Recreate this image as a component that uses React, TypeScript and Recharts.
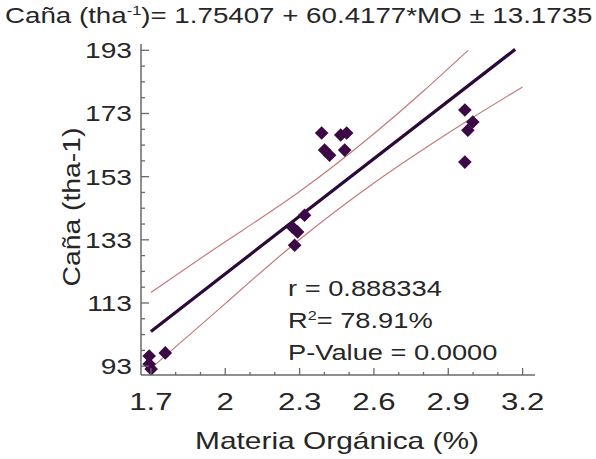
import React from 'react';
import { ComposedChart, XAxis, YAxis, Scatter, Line, Customized } from 'recharts';

const MO_VALUES = [1.693, 1.758, 1.693, 1.701, 2.32, 2.271, 2.292, 2.28, 2.389, 2.466, 2.49, 2.401, 2.421, 2.482, 2.967, 2.999, 2.979, 2.967];
const CANA_VALUES = [96.2, 97.2, 93.7, 92.1, 140.8, 137.0, 135.5, 131.3, 166.8, 166.2, 166.8, 161.4, 159.8, 161.4, 174.1, 170.3, 167.7, 157.6];

const FIT_X = [1.7, 3.17];
const FIT_Y = [104.0, 193.3];

const UPPER_X = [1.7, 2.0, 2.3, 2.6, 2.8, 2.98];
const UPPER_Y = [116.3, 132.4, 148.3, 166.6, 180.1, 193.0];

const LOWER_X = [1.7, 2.0, 2.3, 2.6, 2.8, 3.0, 3.2];
const LOWER_Y = [92.3, 112.8, 133.1, 151.0, 161.7, 171.8, 181.4];

const X_TICKS = [1.7, 1.8, 1.9, 2.0, 2.1, 2.2, 2.3, 2.4, 2.5, 2.6, 2.7, 2.8, 2.9, 3.0, 3.1, 3.2];
const X_LABELS = [1.7, 2, 2.3, 2.6, 2.9, 3.2];
const Y_TICKS = [93, 98, 103, 108, 113, 118, 123, 128, 133, 138, 143, 148, 153, 158, 163, 168, 173, 178, 183, 188, 193];
const Y_LABELS = [93, 113, 133, 153, 173, 193];

const TITLE_MAIN = 'Caña (tha';
const TITLE_SUP = '-1';
const TITLE_REST = ')= 1.75407 + 60.4177*MO ± 13.1735';
const STAT_R = 'r = 0.888334';
const STAT_R2_A = 'R';
const STAT_R2_SUP = '2';
const STAT_R2_B = '= 78.91%';
const STAT_P = 'P-Value = 0.0000';
const X_TITLE = 'Materia Orgánica (%)';
const Y_TITLE = 'Caña (tha-1)';

const points = MO_VALUES.map((x, i) => ({ x, y: CANA_VALUES[i] }));
const fit = FIT_X.map((x, i) => ({ x, y: FIT_Y[i] }));
const upper = UPPER_X.map((x, i) => ({ x, y: UPPER_Y[i] }));
const lower = LOWER_X.map((x, i) => ({ x, y: LOWER_Y[i] }));

const FONT = '"Liberation Sans", Arial, sans-serif';
const AXIS = '#6a6a6a';
const TEXT = '#262626';

const isIn = (arr: number[], v: number) => arr.some((a) => Math.abs(a - v) < 1e-6);

const XTick = (props: any) => {
  const { x, y, payload } = props;
  const major = isIn(X_LABELS, payload.value);
  return (
    <g>
      <line x1={x} x2={x} y1={y} y2={y - (major ? 7 : 3)} stroke={AXIS} strokeWidth={1.3} />
      {major && (
        <text transform={`translate(${x},${y + 35}) scale(1.3,1)`} textAnchor="middle" fontSize={24} fill={TEXT} fontFamily={FONT}>
          {String(payload.value)}
        </text>
      )}
    </g>
  );
};

const YTick = (props: any) => {
  const { x, y, payload } = props;
  const major = isIn(Y_LABELS, payload.value);
  return (
    <g>
      <line x1={x} x2={x + (major ? 8 : 4)} y1={y} y2={y} stroke={AXIS} strokeWidth={1.3} />
      {major && (
        <text transform={`translate(${x - 9},${y + 8}) scale(1.28,1)`} textAnchor="end" fontSize={22} fill={TEXT} fontFamily={FONT}>
          {String(payload.value)}
        </text>
      )}
    </g>
  );
};

const Diamond = (props: any) => {
  const { cx, cy } = props;
  const r = 6.8;
  return <polygon points={`${cx},${cy - r} ${cx + r},${cy} ${cx},${cy + r} ${cx - r},${cy}`} fill="#3b0a45" />;
};

const Texts = () => (
  <g fontFamily={FONT} fill={TEXT}>
    <text transform="translate(5,23) scale(1.26,1)" fontSize={22}>
      {TITLE_MAIN}
      <tspan fontSize={13} dy={-8}>{TITLE_SUP}</tspan>
      <tspan dy={8}>{TITLE_REST}</tspan>
    </text>
    <text transform="translate(288,296) scale(1.24,1)" fontSize={22}>{STAT_R}</text>
    <text transform="translate(288,328) scale(1.24,1)" fontSize={22}>
      {STAT_R2_A}
      <tspan fontSize={13} dy={-8}>{STAT_R2_SUP}</tspan>
      <tspan dy={8}>{STAT_R2_B}</tspan>
    </text>
    <text transform="translate(288,360) scale(1.24,1)" fontSize={22}>{STAT_P}</text>
    <text transform="translate(337,449) scale(1.3,1)" fontSize={23} textAnchor="middle">{X_TITLE}</text>
    <text transform="translate(72,207) rotate(-90) scale(1.18,1)" fontSize={24} textAnchor="middle" dominantBaseline="central">{Y_TITLE}</text>
  </g>
);

export default function App() {
  return (
    <div style={{ position: 'absolute', left: 0, top: 0, width: 596, height: 459, background: '#fff' }}>
      <ComposedChart width={596} height={459} margin={{ top: 44, right: 61, bottom: 0, left: 0 }}>
        <XAxis
          type="number"
          dataKey="x"
          domain={[1.66, 3.25]}
          allowDataOverflow
          ticks={X_TICKS}
          interval={0}
          height={84}
          tickSize={0}
          tickMargin={0}
          tickLine={false}
          tick={<XTick />}
          axisLine={{ stroke: AXIS, strokeWidth: 1.5 }}
        />
        <YAxis
          type="number"
          dataKey="y"
          domain={[90.2, 195]}
          allowDataOverflow
          ticks={Y_TICKS}
          interval={0}
          width={141}
          tickSize={0}
          tickMargin={0}
          tickLine={false}
          tick={<YTick />}
          axisLine={{ stroke: AXIS, strokeWidth: 1.5 }}
        />
        <Line data={upper} dataKey="y" type="natural" stroke="#c47a7a" strokeWidth={1.2} dot={false} isAnimationActive={false} />
        <Line data={lower} dataKey="y" type="natural" stroke="#c47a7a" strokeWidth={1.2} dot={false} isAnimationActive={false} />
        <Line data={fit} dataKey="y" type="linear" stroke="#2a0b38" strokeWidth={3.2} dot={false} isAnimationActive={false} />
        <Scatter data={points} dataKey="y" shape={<Diamond />} isAnimationActive={false} />
        <Customized component={Texts} />
      </ComposedChart>
    </div>
  );
}
